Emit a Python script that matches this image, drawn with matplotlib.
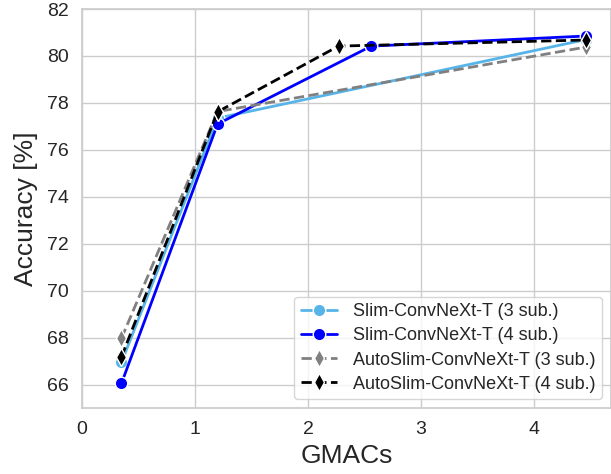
import matplotlib
matplotlib.use("Agg")
import matplotlib.pyplot as plt
import seaborn as sns

sns.set_theme(style="whitegrid")
plt.rcParams['font.family'] = ['Arial', 'Liberation Sans', 'DejaVu Sans']

# GMACs / accuracy
slim3_x = [0.35, 1.2, 4.46]
slim3_y = [66.95, 77.35, 80.7]
slim4_x = [0.35, 1.2, 2.56, 4.46]
slim4_y = [66.05, 77.1, 80.42, 80.85]
auto3_x = [0.35, 1.2, 4.46]
auto3_y = [67.97, 77.63, 80.38]
auto4_x = [0.35, 1.2, 2.27, 4.46]
auto4_y = [67.18, 77.62, 80.42, 80.68]

fig, ax = plt.subplots(figsize=(6.11, 4.74), dpi=100)

ax.plot(slim3_x, slim3_y, '-o', color='#56B4E9', lw=2, ms=9, mec='white', mew=1,
        label='Slim-ConvNeXt-T (3 sub.)')
ax.plot(slim4_x, slim4_y, '-o', color='blue', lw=2, ms=9, mec='white', mew=1,
        label='Slim-ConvNeXt-T (4 sub.)')
ax.plot(auto3_x, auto3_y, '--d', color='gray', lw=2, ms=9, mec='white', mew=1,
        label='AutoSlim-ConvNeXt-T (3 sub.)')
ax.plot(auto4_x, auto4_y, '--d', color='black', lw=2, ms=9, mec='white', mew=1,
        label='AutoSlim-ConvNeXt-T (4 sub.)')

ax.set_xlim(0, 4.68)
ax.set_ylim(65, 82)
ax.set_yticks(range(66, 83, 2))
ax.set_xticks(range(0, 5))
ax.tick_params(labelsize=14)
ax.set_xlabel('GMACs', fontsize=19, labelpad=4)
ax.set_ylabel('Accuracy [%]', fontsize=19, labelpad=6)
ax.legend(loc='lower right', fontsize=13, handlelength=2.0, borderpad=0.35,
          labelspacing=0.4, handletextpad=0.9)

fig.subplots_adjust(left=0.134, right=1.0, top=0.981, bottom=0.139)
fig.savefig('out.png', dpi=100)
